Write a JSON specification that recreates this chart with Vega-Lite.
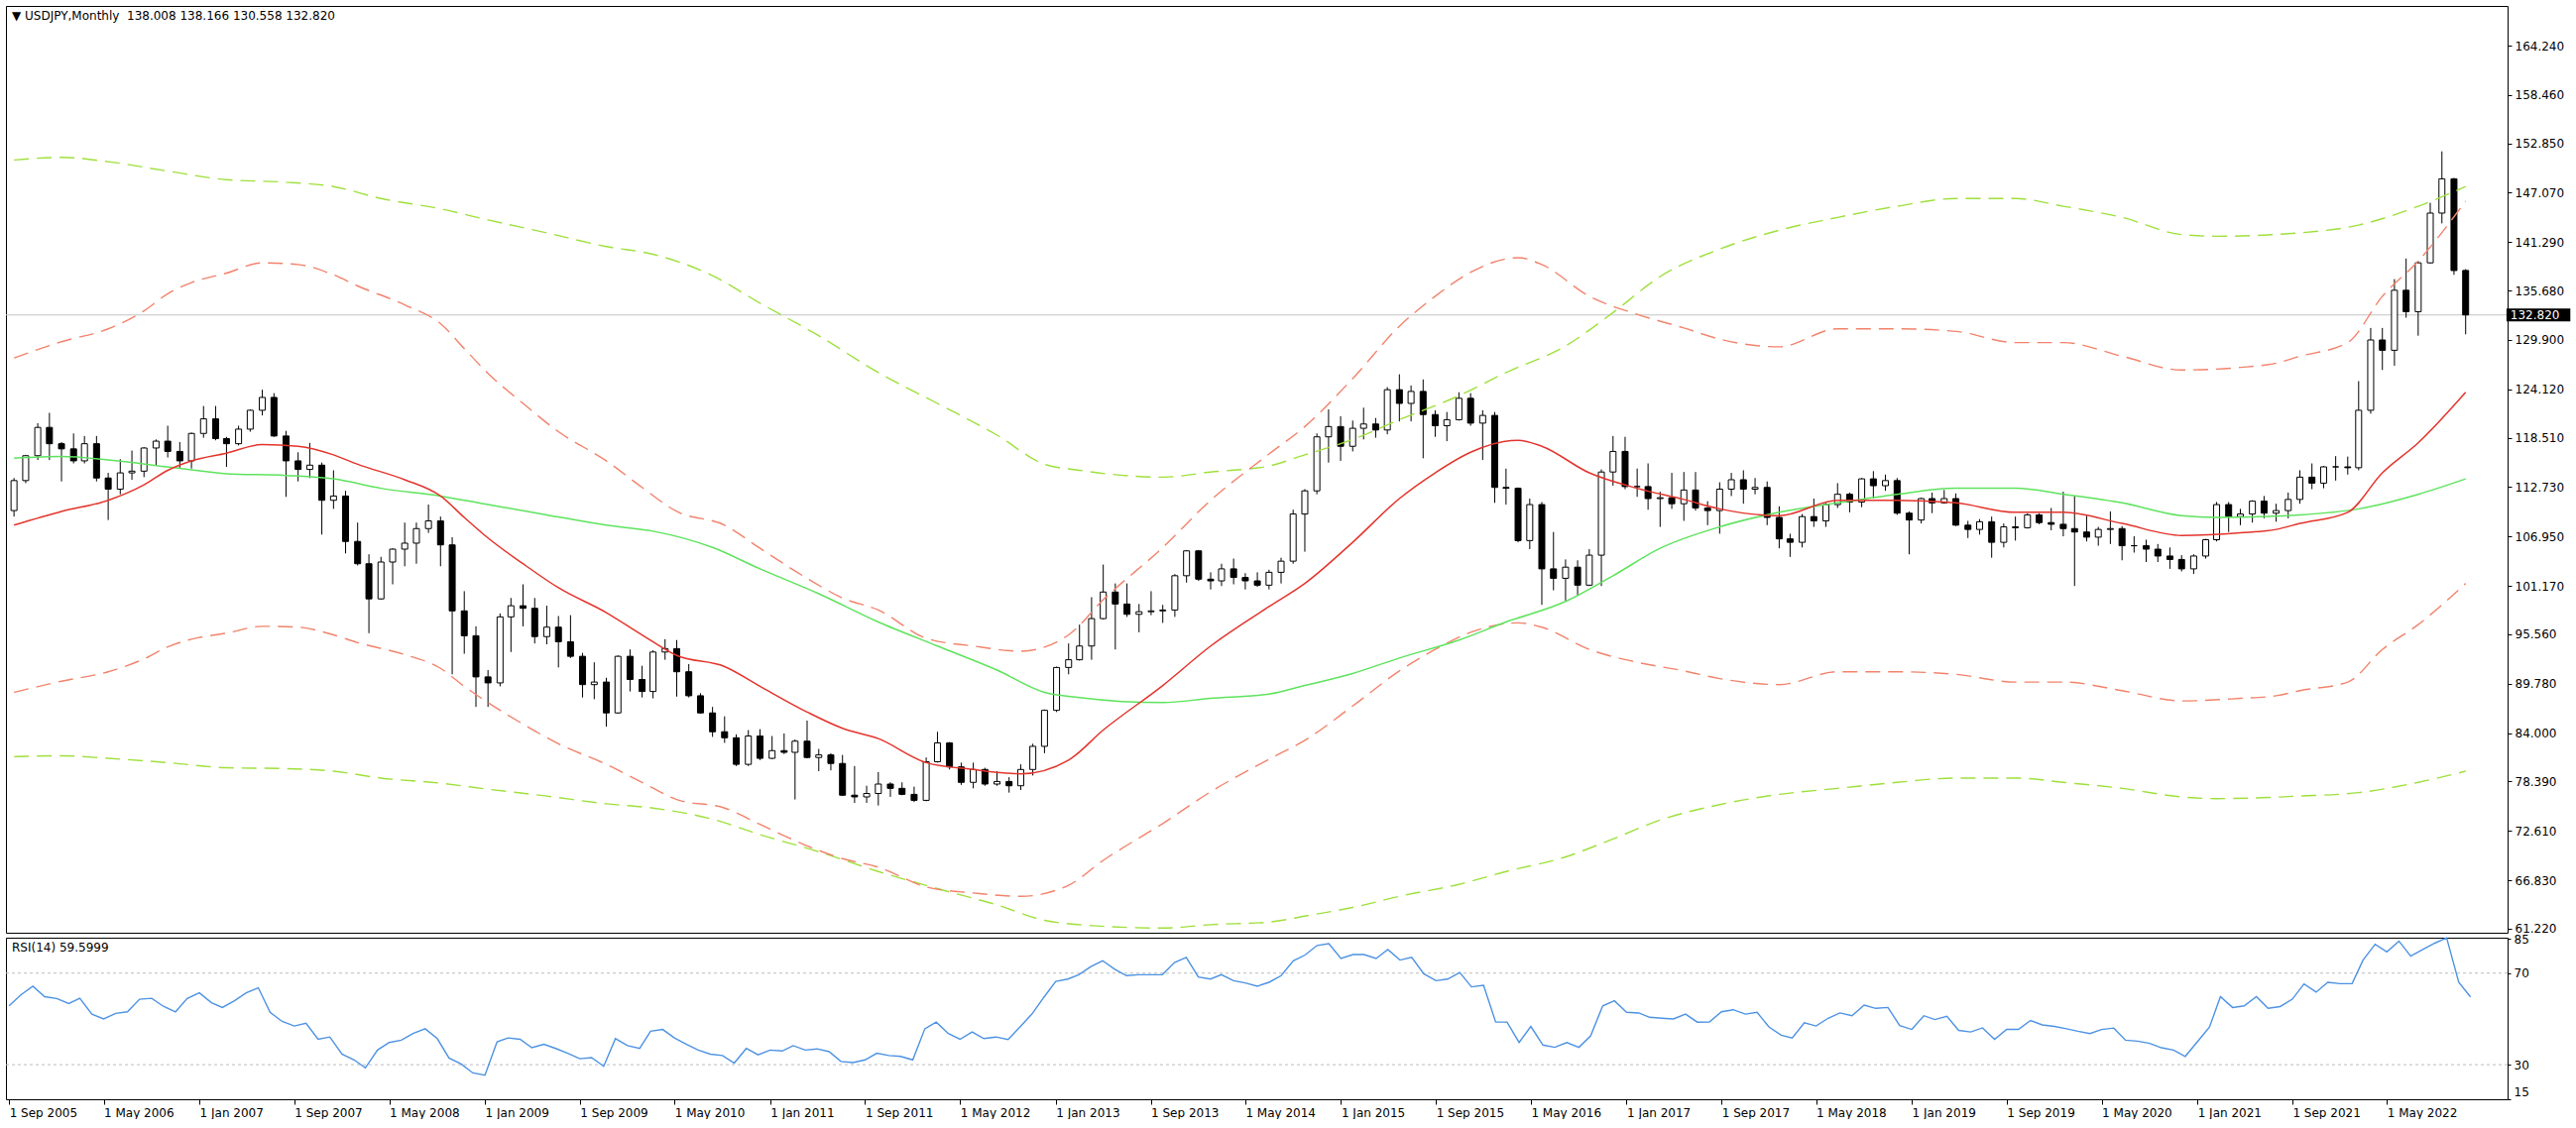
{
"$schema": "https://vega.github.io/schema/vega-lite/v6.json",
"background": "white",
"padding": {"left": 5, "top": 5, "right": 0, "bottom": 0},
"spacing": 5,
"bounds": "flush",
"datasets": {
"bars": [
{"d":"2005-09-01","o":110.0,"h":113.8,"l":109.3,"c":113.5,"r":55.7},
{"d":"2005-10-01","o":113.5,"h":116.5,"l":113.2,"c":116.4,"r":60.5},
{"d":"2005-11-01","o":116.4,"h":120.2,"l":115.9,"c":119.7,"r":64.3},
{"d":"2005-12-01","o":119.7,"h":121.4,"l":115.9,"c":117.8,"r":59.7},
{"d":"2006-01-01","o":117.8,"h":118.0,"l":113.4,"c":117.2,"r":58.9},
{"d":"2006-02-01","o":117.2,"h":119.0,"l":115.5,"c":115.8,"r":56.7},
{"d":"2006-03-01","o":115.8,"h":118.7,"l":115.5,"c":117.8,"r":59.0},
{"d":"2006-04-01","o":117.8,"h":118.7,"l":113.4,"c":113.8,"r":52.1},
{"d":"2006-05-01","o":113.8,"h":114.4,"l":108.9,"c":112.5,"r":50.0},
{"d":"2006-06-01","o":112.5,"h":116.0,"l":111.9,"c":114.4,"r":52.4},
{"d":"2006-07-01","o":114.4,"h":117.0,"l":113.6,"c":114.6,"r":53.1},
{"d":"2006-08-01","o":114.6,"h":117.4,"l":113.9,"c":117.3,"r":58.6},
{"d":"2006-09-01","o":117.3,"h":118.3,"l":115.3,"c":118.1,"r":59.0},
{"d":"2006-10-01","o":118.1,"h":119.9,"l":116.2,"c":116.9,"r":55.5},
{"d":"2006-11-01","o":116.9,"h":118.0,"l":115.0,"c":115.8,"r":53.1},
{"d":"2006-12-01","o":115.8,"h":119.1,"l":114.9,"c":119.0,"r":58.9},
{"d":"2007-01-01","o":119.0,"h":122.2,"l":118.5,"c":120.7,"r":61.4},
{"d":"2007-02-01","o":120.7,"h":122.2,"l":118.2,"c":118.4,"r":57.1},
{"d":"2007-03-01","o":118.4,"h":118.6,"l":115.1,"c":117.8,"r":55.0},
{"d":"2007-04-01","o":117.8,"h":119.9,"l":117.6,"c":119.5,"r":57.9},
{"d":"2007-05-01","o":119.5,"h":121.8,"l":119.2,"c":121.7,"r":61.4},
{"d":"2007-06-01","o":121.7,"h":124.1,"l":121.1,"c":123.2,"r":63.6},
{"d":"2007-07-01","o":123.2,"h":123.7,"l":118.6,"c":118.7,"r":52.9},
{"d":"2007-08-01","o":118.7,"h":119.3,"l":111.6,"c":115.8,"r":48.9},
{"d":"2007-09-01","o":115.8,"h":116.8,"l":113.4,"c":114.8,"r":46.9},
{"d":"2007-10-01","o":114.8,"h":117.9,"l":113.8,"c":115.3,"r":48.1},
{"d":"2007-11-01","o":115.3,"h":115.6,"l":107.2,"c":111.2,"r":41.1},
{"d":"2007-12-01","o":111.2,"h":114.7,"l":110.2,"c":111.7,"r":42.1},
{"d":"2008-01-01","o":111.7,"h":112.3,"l":105.0,"c":106.4,"r":34.6},
{"d":"2008-02-01","o":106.4,"h":108.6,"l":103.6,"c":103.8,"r":32.1},
{"d":"2008-03-01","o":103.8,"h":104.9,"l":95.7,"c":99.7,"r":28.6},
{"d":"2008-04-01","o":99.7,"h":104.6,"l":99.6,"c":104.0,"r":36.4},
{"d":"2008-05-01","o":104.0,"h":105.6,"l":101.4,"c":105.5,"r":39.7},
{"d":"2008-06-01","o":105.5,"h":108.6,"l":103.5,"c":106.2,"r":40.7},
{"d":"2008-07-01","o":106.2,"h":108.6,"l":103.8,"c":107.9,"r":43.6},
{"d":"2008-08-01","o":107.9,"h":110.7,"l":107.4,"c":108.8,"r":45.7},
{"d":"2008-09-01","o":108.8,"h":109.3,"l":103.5,"c":106.0,"r":41.4},
{"d":"2008-10-01","o":106.0,"h":106.9,"l":90.9,"c":98.3,"r":32.9},
{"d":"2008-11-01","o":98.3,"h":100.6,"l":93.3,"c":95.4,"r":30.3},
{"d":"2008-12-01","o":95.4,"h":96.5,"l":87.1,"c":90.6,"r":26.4},
{"d":"2009-01-01","o":90.6,"h":91.4,"l":87.1,"c":89.9,"r":25.4},
{"d":"2009-02-01","o":89.9,"h":98.0,"l":89.5,"c":97.6,"r":40.0},
{"d":"2009-03-01","o":97.6,"h":99.8,"l":93.5,"c":98.9,"r":41.7},
{"d":"2009-04-01","o":98.9,"h":101.4,"l":96.5,"c":98.6,"r":41.1},
{"d":"2009-05-01","o":98.6,"h":99.8,"l":94.5,"c":95.3,"r":37.4},
{"d":"2009-06-01","o":95.3,"h":98.9,"l":94.4,"c":96.4,"r":38.9},
{"d":"2009-07-01","o":96.4,"h":97.7,"l":91.7,"c":94.7,"r":37.1},
{"d":"2009-08-01","o":94.7,"h":97.8,"l":92.8,"c":93.0,"r":35.0},
{"d":"2009-09-01","o":93.0,"h":93.4,"l":88.2,"c":89.7,"r":32.6},
{"d":"2009-10-01","o":89.7,"h":92.3,"l":88.0,"c":90.0,"r":33.1},
{"d":"2009-11-01","o":90.0,"h":90.5,"l":84.8,"c":86.4,"r":29.3},
{"d":"2009-12-01","o":86.4,"h":93.1,"l":86.3,"c":93.0,"r":41.4},
{"d":"2010-01-01","o":93.0,"h":93.8,"l":88.9,"c":90.3,"r":38.3},
{"d":"2010-02-01","o":90.3,"h":91.9,"l":88.2,"c":88.9,"r":37.1},
{"d":"2010-03-01","o":88.9,"h":93.7,"l":88.1,"c":93.5,"r":44.6},
{"d":"2010-04-01","o":93.5,"h":95.0,"l":92.6,"c":93.9,"r":45.4},
{"d":"2010-05-01","o":93.9,"h":94.9,"l":88.3,"c":91.2,"r":41.7},
{"d":"2010-06-01","o":91.2,"h":92.1,"l":88.2,"c":88.4,"r":38.9},
{"d":"2010-07-01","o":88.4,"h":88.7,"l":86.3,"c":86.4,"r":36.4},
{"d":"2010-08-01","o":86.4,"h":87.1,"l":83.6,"c":84.2,"r":34.6},
{"d":"2010-09-01","o":84.2,"h":86.0,"l":82.9,"c":83.5,"r":34.0},
{"d":"2010-10-01","o":83.5,"h":83.9,"l":80.2,"c":80.4,"r":30.7},
{"d":"2010-11-01","o":80.4,"h":84.4,"l":80.2,"c":83.7,"r":37.1},
{"d":"2010-12-01","o":83.7,"h":84.5,"l":80.9,"c":81.1,"r":34.3},
{"d":"2011-01-01","o":81.1,"h":83.7,"l":81.0,"c":82.0,"r":36.4},
{"d":"2011-02-01","o":82.0,"h":84.0,"l":81.6,"c":81.8,"r":36.0},
{"d":"2011-03-01","o":81.8,"h":83.3,"l":76.3,"c":83.1,"r":38.3},
{"d":"2011-04-01","o":83.1,"h":85.5,"l":81.1,"c":81.2,"r":36.4},
{"d":"2011-05-01","o":81.2,"h":82.2,"l":79.6,"c":81.5,"r":36.9},
{"d":"2011-06-01","o":81.5,"h":81.7,"l":79.7,"c":80.5,"r":35.7},
{"d":"2011-07-01","o":80.5,"h":81.5,"l":76.7,"c":76.8,"r":31.4},
{"d":"2011-08-01","o":76.8,"h":80.2,"l":75.9,"c":76.6,"r":30.9},
{"d":"2011-09-01","o":76.6,"h":77.9,"l":75.9,"c":77.0,"r":32.1},
{"d":"2011-10-01","o":77.0,"h":79.5,"l":75.6,"c":78.1,"r":35.0},
{"d":"2011-11-01","o":78.1,"h":78.3,"l":76.6,"c":77.6,"r":34.0},
{"d":"2011-12-01","o":77.6,"h":78.3,"l":76.8,"c":76.9,"r":33.6},
{"d":"2012-01-01","o":76.9,"h":77.8,"l":76.0,"c":76.2,"r":32.1},
{"d":"2012-02-01","o":76.2,"h":81.2,"l":76.1,"c":80.7,"r":45.7},
{"d":"2012-03-01","o":80.7,"h":84.2,"l":80.6,"c":82.9,"r":48.6},
{"d":"2012-04-01","o":82.9,"h":83.0,"l":79.8,"c":80.1,"r":43.6},
{"d":"2012-05-01","o":80.1,"h":80.6,"l":78.0,"c":78.3,"r":41.1},
{"d":"2012-06-01","o":78.3,"h":80.6,"l":77.6,"c":79.8,"r":44.3},
{"d":"2012-07-01","o":79.8,"h":80.0,"l":77.9,"c":78.1,"r":41.4},
{"d":"2012-08-01","o":78.1,"h":79.6,"l":77.9,"c":78.4,"r":42.1},
{"d":"2012-09-01","o":78.4,"h":78.9,"l":77.1,"c":77.9,"r":41.0},
{"d":"2012-10-01","o":77.9,"h":80.4,"l":77.4,"c":79.8,"r":46.4},
{"d":"2012-11-01","o":79.8,"h":82.8,"l":79.1,"c":82.5,"r":52.1},
{"d":"2012-12-01","o":82.5,"h":86.8,"l":81.7,"c":86.7,"r":59.3},
{"d":"2013-01-01","o":86.7,"h":91.8,"l":86.5,"c":91.7,"r":66.4},
{"d":"2013-02-01","o":91.7,"h":94.5,"l":90.9,"c":92.6,"r":67.4},
{"d":"2013-03-01","o":92.6,"h":96.7,"l":92.5,"c":94.2,"r":69.3},
{"d":"2013-04-01","o":94.2,"h":99.9,"l":92.6,"c":97.4,"r":72.9},
{"d":"2013-05-01","o":97.4,"h":103.7,"l":97.3,"c":100.5,"r":75.4},
{"d":"2013-06-01","o":100.5,"h":101.5,"l":93.8,"c":99.1,"r":71.7},
{"d":"2013-07-01","o":99.1,"h":101.5,"l":97.6,"c":97.9,"r":68.9},
{"d":"2013-08-01","o":97.9,"h":99.1,"l":95.8,"c":98.2,"r":69.3},
{"d":"2013-09-01","o":98.2,"h":100.6,"l":97.8,"c":98.3,"r":69.3},
{"d":"2013-10-01","o":98.3,"h":99.0,"l":96.9,"c":98.4,"r":69.3},
{"d":"2013-11-01","o":98.4,"h":102.6,"l":97.6,"c":102.4,"r":74.6},
{"d":"2013-12-01","o":102.4,"h":105.4,"l":101.6,"c":105.3,"r":76.9},
{"d":"2014-01-01","o":105.3,"h":105.4,"l":101.8,"c":102.0,"r":68.3},
{"d":"2014-02-01","o":102.0,"h":102.8,"l":100.8,"c":101.8,"r":67.4},
{"d":"2014-03-01","o":101.8,"h":103.8,"l":101.2,"c":103.2,"r":69.3},
{"d":"2014-04-01","o":103.2,"h":104.4,"l":101.4,"c":102.2,"r":66.7},
{"d":"2014-05-01","o":102.2,"h":102.7,"l":100.8,"c":101.8,"r":65.7},
{"d":"2014-06-01","o":101.8,"h":102.8,"l":101.1,"c":101.3,"r":64.3},
{"d":"2014-07-01","o":101.3,"h":103.1,"l":100.8,"c":102.8,"r":66.0},
{"d":"2014-08-01","o":102.8,"h":104.5,"l":101.5,"c":104.1,"r":68.9},
{"d":"2014-09-01","o":104.1,"h":110.1,"l":103.8,"c":109.6,"r":75.4},
{"d":"2014-10-01","o":109.6,"h":112.5,"l":105.2,"c":112.3,"r":77.9},
{"d":"2014-11-01","o":112.3,"h":119.0,"l":111.9,"c":118.6,"r":82.1},
{"d":"2014-12-01","o":118.6,"h":121.8,"l":115.6,"c":119.8,"r":82.9},
{"d":"2015-01-01","o":119.8,"h":121.0,"l":115.8,"c":117.5,"r":76.4},
{"d":"2015-02-01","o":117.5,"h":120.5,"l":116.9,"c":119.6,"r":78.1},
{"d":"2015-03-01","o":119.6,"h":122.0,"l":118.3,"c":120.1,"r":78.1},
{"d":"2015-04-01","o":120.1,"h":120.8,"l":118.5,"c":119.4,"r":76.4},
{"d":"2015-05-01","o":119.4,"h":124.4,"l":118.9,"c":124.1,"r":80.3},
{"d":"2015-06-01","o":124.1,"h":125.9,"l":120.4,"c":122.5,"r":75.7},
{"d":"2015-07-01","o":122.5,"h":124.6,"l":120.4,"c":123.9,"r":76.9},
{"d":"2015-08-01","o":123.9,"h":125.3,"l":116.1,"c":121.2,"r":69.7},
{"d":"2015-09-01","o":121.2,"h":121.7,"l":118.6,"c":119.9,"r":66.7},
{"d":"2015-10-01","o":119.9,"h":121.5,"l":118.1,"c":120.6,"r":67.4},
{"d":"2015-11-01","o":120.6,"h":123.8,"l":120.5,"c":123.1,"r":70.3},
{"d":"2015-12-01","o":123.1,"h":123.7,"l":119.9,"c":120.2,"r":64.0},
{"d":"2016-01-01","o":120.2,"h":121.7,"l":115.9,"c":121.1,"r":64.7},
{"d":"2016-02-01","o":121.1,"h":121.5,"l":110.9,"c":112.7,"r":48.6},
{"d":"2016-03-01","o":112.7,"h":114.9,"l":110.7,"c":112.6,"r":48.6},
{"d":"2016-04-01","o":112.6,"h":112.7,"l":106.3,"c":106.5,"r":39.7},
{"d":"2016-05-01","o":106.5,"h":111.4,"l":105.5,"c":110.7,"r":46.7},
{"d":"2016-06-01","o":110.7,"h":111.0,"l":99.0,"c":103.2,"r":38.6},
{"d":"2016-07-01","o":103.2,"h":107.5,"l":100.7,"c":102.1,"r":37.6},
{"d":"2016-08-01","o":102.1,"h":104.3,"l":99.5,"c":103.4,"r":39.7},
{"d":"2016-09-01","o":103.4,"h":104.2,"l":100.1,"c":101.3,"r":37.6},
{"d":"2016-10-01","o":101.3,"h":105.5,"l":101.2,"c":104.8,"r":42.6},
{"d":"2016-11-01","o":104.8,"h":114.8,"l":101.2,"c":114.5,"r":55.7},
{"d":"2016-12-01","o":114.5,"h":118.7,"l":112.9,"c":116.9,"r":57.9},
{"d":"2017-01-01","o":116.9,"h":118.6,"l":112.5,"c":112.8,"r":52.9},
{"d":"2017-02-01","o":112.8,"h":114.9,"l":111.6,"c":112.8,"r":52.6},
{"d":"2017-03-01","o":112.8,"h":115.5,"l":110.1,"c":111.4,"r":50.7},
{"d":"2017-04-01","o":111.4,"h":112.2,"l":108.1,"c":111.5,"r":50.3},
{"d":"2017-05-01","o":111.5,"h":114.4,"l":110.2,"c":110.8,"r":50.0},
{"d":"2017-06-01","o":110.8,"h":114.5,"l":108.8,"c":112.4,"r":52.1},
{"d":"2017-07-01","o":112.4,"h":114.5,"l":110.0,"c":110.3,"r":48.6},
{"d":"2017-08-01","o":110.3,"h":111.1,"l":108.3,"c":110.0,"r":48.7},
{"d":"2017-09-01","o":110.0,"h":113.3,"l":107.3,"c":112.5,"r":53.1},
{"d":"2017-10-01","o":112.5,"h":114.4,"l":111.7,"c":113.6,"r":54.0},
{"d":"2017-11-01","o":113.6,"h":114.7,"l":110.8,"c":112.5,"r":52.1},
{"d":"2017-12-01","o":112.5,"h":113.8,"l":111.9,"c":112.7,"r":52.9},
{"d":"2018-01-01","o":112.7,"h":113.4,"l":108.3,"c":109.2,"r":46.4},
{"d":"2018-02-01","o":109.2,"h":110.5,"l":105.6,"c":106.7,"r":42.9},
{"d":"2018-03-01","o":106.7,"h":107.3,"l":104.6,"c":106.3,"r":41.7},
{"d":"2018-04-01","o":106.3,"h":109.6,"l":105.7,"c":109.3,"r":48.3},
{"d":"2018-05-01","o":109.3,"h":111.4,"l":108.1,"c":108.8,"r":46.9},
{"d":"2018-06-01","o":108.8,"h":110.9,"l":108.1,"c":110.7,"r":50.3},
{"d":"2018-07-01","o":110.7,"h":113.2,"l":110.3,"c":111.9,"r":52.6},
{"d":"2018-08-01","o":111.9,"h":112.1,"l":109.8,"c":111.0,"r":51.4},
{"d":"2018-09-01","o":111.0,"h":113.8,"l":110.4,"c":113.7,"r":56.0},
{"d":"2018-10-01","o":113.7,"h":114.6,"l":111.4,"c":112.9,"r":54.6},
{"d":"2018-11-01","o":112.9,"h":114.2,"l":112.3,"c":113.5,"r":55.0},
{"d":"2018-12-01","o":113.5,"h":113.8,"l":109.5,"c":109.7,"r":47.1},
{"d":"2019-01-01","o":109.7,"h":109.9,"l":104.9,"c":108.9,"r":45.4},
{"d":"2019-02-01","o":108.9,"h":111.5,"l":108.5,"c":111.4,"r":51.4},
{"d":"2019-03-01","o":111.4,"h":112.1,"l":109.7,"c":110.9,"r":49.7},
{"d":"2019-04-01","o":110.9,"h":112.4,"l":110.8,"c":111.4,"r":51.1},
{"d":"2019-05-01","o":111.4,"h":112.0,"l":108.2,"c":108.3,"r":45.0},
{"d":"2019-06-01","o":108.3,"h":108.8,"l":106.8,"c":107.8,"r":44.3},
{"d":"2019-07-01","o":107.8,"h":109.0,"l":107.2,"c":108.7,"r":46.1},
{"d":"2019-08-01","o":108.7,"h":109.3,"l":104.5,"c":106.3,"r":41.1},
{"d":"2019-09-01","o":106.3,"h":108.5,"l":105.7,"c":108.1,"r":45.4},
{"d":"2019-10-01","o":108.1,"h":109.3,"l":106.5,"c":108.0,"r":45.4},
{"d":"2019-11-01","o":108.0,"h":109.7,"l":107.9,"c":109.5,"r":49.3},
{"d":"2019-12-01","o":109.5,"h":109.7,"l":108.4,"c":108.6,"r":47.4},
{"d":"2020-01-01","o":108.6,"h":110.3,"l":107.7,"c":108.4,"r":46.7},
{"d":"2020-02-01","o":108.4,"h":112.2,"l":107.0,"c":107.9,"r":45.7},
{"d":"2020-03-01","o":107.9,"h":111.7,"l":101.2,"c":107.5,"r":44.6},
{"d":"2020-04-01","o":107.5,"h":109.4,"l":106.4,"c":106.9,"r":43.6},
{"d":"2020-05-01","o":106.9,"h":108.1,"l":105.9,"c":107.8,"r":45.4},
{"d":"2020-06-01","o":107.8,"h":109.9,"l":106.1,"c":107.9,"r":46.0},
{"d":"2020-07-01","o":107.9,"h":108.2,"l":104.2,"c":105.9,"r":40.7},
{"d":"2020-08-01","o":105.9,"h":107.0,"l":105.1,"c":105.9,"r":40.3},
{"d":"2020-09-01","o":105.9,"h":106.6,"l":104.0,"c":105.5,"r":39.3},
{"d":"2020-10-01","o":105.5,"h":106.1,"l":104.0,"c":104.7,"r":37.4},
{"d":"2020-11-01","o":104.7,"h":105.7,"l":103.2,"c":104.3,"r":36.4},
{"d":"2020-12-01","o":104.3,"h":104.8,"l":102.9,"c":103.2,"r":33.6},
{"d":"2021-01-01","o":103.2,"h":104.9,"l":102.6,"c":104.7,"r":40.0},
{"d":"2021-02-01","o":104.7,"h":106.7,"l":104.4,"c":106.6,"r":46.4},
{"d":"2021-03-01","o":106.6,"h":111.0,"l":106.4,"c":110.7,"r":59.7},
{"d":"2021-04-01","o":110.7,"h":111.0,"l":107.5,"c":109.3,"r":55.0},
{"d":"2021-05-01","o":109.3,"h":110.2,"l":108.3,"c":109.6,"r":55.7},
{"d":"2021-06-01","o":109.6,"h":111.2,"l":108.6,"c":111.1,"r":59.7},
{"d":"2021-07-01","o":111.1,"h":111.7,"l":109.1,"c":109.7,"r":54.6},
{"d":"2021-08-01","o":109.7,"h":110.8,"l":108.7,"c":110.0,"r":55.4},
{"d":"2021-09-01","o":110.0,"h":112.1,"l":109.1,"c":111.3,"r":58.6},
{"d":"2021-10-01","o":111.3,"h":114.7,"l":110.8,"c":113.9,"r":65.3},
{"d":"2021-11-01","o":113.9,"h":115.5,"l":112.5,"c":113.2,"r":61.7},
{"d":"2021-12-01","o":113.2,"h":115.2,"l":112.6,"c":115.1,"r":66.0},
{"d":"2022-01-01","o":115.1,"h":116.35,"l":113.5,"c":115.1,"r":65.4},
{"d":"2022-02-01","o":115.1,"h":116.3,"l":114.2,"c":115.0,"r":65.4},
{"d":"2022-03-01","o":115.0,"h":125.1,"l":114.7,"c":121.7,"r":75.7},
{"d":"2022-04-01","o":121.7,"h":131.3,"l":121.3,"c":129.9,"r":82.6},
{"d":"2022-05-01","o":129.9,"h":131.3,"l":126.4,"c":128.7,"r":79.3},
{"d":"2022-06-01","o":128.7,"h":137.0,"l":126.9,"c":135.7,"r":84.0},
{"d":"2022-07-01","o":135.7,"h":139.4,"l":132.5,"c":133.2,"r":77.4},
{"d":"2022-08-01","o":133.2,"h":139.1,"l":130.4,"c":138.9,"r":80.3},
{"d":"2022-09-01","o":138.9,"h":145.9,"l":138.8,"c":144.7,"r":83.1},
{"d":"2022-10-01","o":144.7,"h":151.9,"l":143.5,"c":148.7,"r":85.4},
{"d":"2022-11-01","o":148.7,"h":148.8,"l":137.5,"c":138.0,"r":66.0},
{"d":"2022-12-01","o":138.008,"h":138.166,"l":130.558,"c":132.82,"r":59.6}
],
"red": [
{"d":"2005-09-01","m":108.3,"u":127.8,"n":88.8},
{"d":"2006-01-01","m":109.9,"u":129.7,"n":90.1},
{"d":"2006-05-01","m":111.2,"u":131.2,"n":91.2},
{"d":"2006-08-01","m":113.0,"u":133.3,"n":92.7},
{"d":"2006-10-01","m":114.7,"u":135.3,"n":94.1},
{"d":"2006-12-01","m":115.8,"u":136.6,"n":95.0},
{"d":"2007-03-01","m":116.7,"u":137.7,"n":95.7},
{"d":"2007-06-01","m":117.7,"u":138.9,"n":96.5},
{"d":"2007-09-01","m":117.5,"u":138.7,"n":96.4},
{"d":"2007-12-01","m":116.5,"u":137.5,"n":95.5},
{"d":"2008-02-01","m":115.4,"u":136.2,"n":94.6},
{"d":"2008-06-01","m":113.6,"u":134.0,"n":93.2},
{"d":"2008-09-01","m":111.7,"u":131.8,"n":91.6},
{"d":"2008-11-01","m":109.2,"u":128.9,"n":89.5},
{"d":"2009-01-01","m":106.8,"u":126.0,"n":87.6},
{"d":"2009-04-01","m":103.8,"u":122.5,"n":85.1},
{"d":"2009-07-01","m":101.0,"u":119.2,"n":82.8},
{"d":"2009-11-01","m":98.1,"u":115.8,"n":80.4},
{"d":"2010-02-01","m":95.5,"u":112.7,"n":78.3},
{"d":"2010-05-01","m":93.1,"u":109.9,"n":76.3},
{"d":"2010-09-01","m":91.8,"u":108.3,"n":75.3},
{"d":"2010-12-01","m":89.5,"u":105.6,"n":73.4},
{"d":"2011-04-01","m":86.5,"u":102.1,"n":70.9},
{"d":"2011-07-01","m":84.6,"u":99.8,"n":69.4},
{"d":"2011-10-01","m":83.4,"u":98.4,"n":68.4},
{"d":"2012-02-01","m":80.6,"u":95.1,"n":66.1},
{"d":"2012-06-01","m":79.8,"u":94.2,"n":65.4},
{"d":"2012-10-01","m":79.3,"u":93.6,"n":65.0},
{"d":"2013-02-01","m":80.9,"u":95.5,"n":66.3},
{"d":"2013-05-01","m":84.4,"u":99.6,"n":69.2},
{"d":"2013-10-01","m":89.6,"u":105.7,"n":73.5},
{"d":"2014-02-01","m":94.2,"u":111.2,"n":77.2},
{"d":"2014-07-01","m":98.8,"u":116.6,"n":81.0},
{"d":"2014-10-01","m":101.5,"u":119.8,"n":83.2},
{"d":"2015-02-01","m":106.3,"u":125.4,"n":87.2},
{"d":"2015-06-01","m":111.4,"u":131.5,"n":91.3},
{"d":"2015-09-01","m":114.4,"u":135.0,"n":93.8},
{"d":"2015-12-01","m":116.8,"u":137.8,"n":95.8},
{"d":"2016-04-01","m":118.2,"u":139.5,"n":96.9},
{"d":"2016-06-01","m":117.5,"u":138.7,"n":96.4},
{"d":"2016-10-01","m":114.4,"u":135.0,"n":93.8},
{"d":"2017-02-01","m":112.6,"u":132.9,"n":92.3},
{"d":"2017-06-01","m":111.3,"u":131.3,"n":91.3},
{"d":"2017-09-01","m":110.2,"u":130.0,"n":90.4},
{"d":"2018-02-01","m":109.4,"u":129.1,"n":89.7},
{"d":"2018-07-01","m":111.2,"u":131.2,"n":91.2},
{"d":"2018-12-01","m":111.2,"u":131.2,"n":91.2},
{"d":"2019-05-01","m":110.9,"u":130.9,"n":90.9},
{"d":"2019-10-01","m":109.8,"u":129.6,"n":90.0},
{"d":"2020-02-01","m":109.8,"u":129.6,"n":90.0},
{"d":"2020-07-01","m":108.5,"u":128.0,"n":89.0},
{"d":"2020-12-01","m":107.1,"u":126.4,"n":87.8},
{"d":"2021-05-01","m":107.4,"u":126.7,"n":88.1},
{"d":"2021-08-01","m":107.8,"u":127.2,"n":88.4},
{"d":"2021-10-01","m":108.5,"u":128.0,"n":89.0},
{"d":"2022-02-01","m":109.8,"u":129.6,"n":90.0},
{"d":"2022-05-01","m":114.4,"u":135.0,"n":93.8},
{"d":"2022-08-01","m":117.9,"u":139.1,"n":96.7},
{"d":"2022-12-01","m":123.8,"u":146.1,"n":101.5}
],
"green": [
{"d":"2005-09-01","g":116.1,"u":150.9,"n":81.3},
{"d":"2006-01-01","g":116.3,"u":151.2,"n":81.4},
{"d":"2006-05-01","g":115.9,"u":150.7,"n":81.1},
{"d":"2006-10-01","g":115.1,"u":149.6,"n":80.6},
{"d":"2007-03-01","g":114.3,"u":148.6,"n":80.0},
{"d":"2007-08-01","g":114.1,"u":148.3,"n":79.9},
{"d":"2007-12-01","g":113.7,"u":147.8,"n":79.6},
{"d":"2008-04-01","g":112.6,"u":146.4,"n":78.8},
{"d":"2008-09-01","g":111.7,"u":145.2,"n":78.2},
{"d":"2009-01-01","g":110.7,"u":143.9,"n":77.5},
{"d":"2009-06-01","g":109.5,"u":142.4,"n":76.7},
{"d":"2009-11-01","g":108.3,"u":140.8,"n":75.8},
{"d":"2010-03-01","g":107.6,"u":139.9,"n":75.3},
{"d":"2010-08-01","g":105.7,"u":137.4,"n":74.0},
{"d":"2010-12-01","g":103.2,"u":134.2,"n":72.2},
{"d":"2011-05-01","g":100.3,"u":130.4,"n":70.2},
{"d":"2011-10-01","g":97.0,"u":126.1,"n":67.9},
{"d":"2012-03-01","g":94.2,"u":122.5,"n":65.9},
{"d":"2012-08-01","g":91.4,"u":118.8,"n":64.0},
{"d":"2012-12-01","g":88.8,"u":115.4,"n":62.2},
{"d":"2013-03-01","g":88.2,"u":114.7,"n":61.7},
{"d":"2013-10-01","g":87.6,"u":113.9,"n":61.3},
{"d":"2014-02-01","g":88.1,"u":114.5,"n":61.7},
{"d":"2014-07-01","g":88.6,"u":115.2,"n":62.0},
{"d":"2014-10-01","g":89.6,"u":116.5,"n":62.7},
{"d":"2015-02-01","g":91.0,"u":118.3,"n":63.7},
{"d":"2015-06-01","g":92.8,"u":120.6,"n":65.0},
{"d":"2015-11-01","g":94.9,"u":123.4,"n":66.4},
{"d":"2016-03-01","g":97.0,"u":126.1,"n":67.9},
{"d":"2016-08-01","g":99.4,"u":129.2,"n":69.6},
{"d":"2016-12-01","g":102.4,"u":133.1,"n":71.7},
{"d":"2017-04-01","g":105.6,"u":137.3,"n":73.9},
{"d":"2017-09-01","g":108.1,"u":140.5,"n":75.7},
{"d":"2018-02-01","g":109.8,"u":142.7,"n":76.9},
{"d":"2018-07-01","g":110.9,"u":144.2,"n":77.6},
{"d":"2018-12-01","g":111.9,"u":145.5,"n":78.3},
{"d":"2019-05-01","g":112.6,"u":146.4,"n":78.8},
{"d":"2019-10-01","g":112.6,"u":146.4,"n":78.8},
{"d":"2020-02-01","g":111.9,"u":145.5,"n":78.3},
{"d":"2020-07-01","g":110.9,"u":144.2,"n":77.6},
{"d":"2020-12-01","g":109.4,"u":142.2,"n":76.6},
{"d":"2021-03-01","g":109.2,"u":142.0,"n":76.4},
{"d":"2021-10-01","g":109.5,"u":142.4,"n":76.7},
{"d":"2022-03-01","g":110.2,"u":143.3,"n":77.1},
{"d":"2022-08-01","g":111.9,"u":145.5,"n":78.3},
{"d":"2022-12-01","g":113.7,"u":147.8,"n":79.6}
]
},
"vconcat": [
{
"width": 2523,
"height": 935,
"title": {"text": "▼ USDJPY,Monthly\u00a0\u00a0138.008 138.166 130.558 132.820", "anchor": "start", "frame": "group", "orient": "top", "offset": -17, "dx": 6, "font": "DejaVu Sans", "fontSize": 12, "fontWeight": "normal", "color": "#000"},
"layer": [
{"data": {"values": [{}]}, "mark": {"type": "rule", "color": "#c4c4c4", "strokeWidth": 1},
 "encoding": {"y": {"datum": 132.82, "type": "quantitative", "scale": {"domain": [60.757, 168.865], "nice": false, "zero": false}}}},
{"data": {"name": "bars"}, "mark": {"type": "rule", "color": "#000", "strokeWidth": 1},
 "encoding": {
  "x": {"field": "d", "type": "temporal", "axis": null, "scale": {"type": "utc", "domain": [{"year": 2005, "month": 8, "date": 24, "utc": true}, {"year": 2023, "month": 3, "date": 6, "utc": true}]}},
  "y": {"field": "l", "type": "quantitative", "title": null, "scale": {"domain": [60.757, 168.865], "nice": false, "zero": false},
        "axis": {"orient": "right", "values": [61.22, 66.83, 72.61, 78.39, 84, 89.78, 95.56, 101.17, 106.95, 112.73, 118.51, 124.12, 129.9, 135.68, 141.29, 147.07, 152.85, 158.46, 164.24], "format": ".3f", "tickSize": 4, "labelPadding": 3, "labelFlush": false, "labelOverlap": false, "title": null}},
  "y2": {"field": "h"}}},
{"data": {"name": "bars"}, "mark": {"type": "bar", "width": 6, "stroke": "#000", "strokeWidth": 1},
 "encoding": {
  "x": {"field": "d", "type": "temporal", "axis": null, "scale": {"type": "utc", "domain": [{"year": 2005, "month": 8, "date": 24, "utc": true}, {"year": 2023, "month": 3, "date": 6, "utc": true}]}},
  "y": {"field": "o", "type": "quantitative", "title": null, "scale": {"domain": [60.757, 168.865], "nice": false, "zero": false}},
  "y2": {"field": "c"},
  "fill": {"condition": {"test": "datum.c < datum.o", "value": "#000"}, "value": "#fff"}}},
{"data": {"name": "green"}, "mark": {"type": "line", "color": "#9fe03c", "strokeWidth": 1.4, "strokeDash": [15, 8], "interpolate": "monotone"},
 "encoding": {
  "x": {"field": "d", "type": "temporal", "axis": null, "scale": {"type": "utc", "domain": [{"year": 2005, "month": 8, "date": 24, "utc": true}, {"year": 2023, "month": 3, "date": 6, "utc": true}]}},
  "y": {"field": "u", "type": "quantitative", "title": null, "scale": {"domain": [60.757, 168.865], "nice": false, "zero": false}}}},
{"data": {"name": "green"}, "mark": {"type": "line", "color": "#9fe03c", "strokeWidth": 1.4, "strokeDash": [15, 8], "interpolate": "monotone"},
 "encoding": {
  "x": {"field": "d", "type": "temporal", "axis": null, "scale": {"type": "utc", "domain": [{"year": 2005, "month": 8, "date": 24, "utc": true}, {"year": 2023, "month": 3, "date": 6, "utc": true}]}},
  "y": {"field": "n", "type": "quantitative", "title": null, "scale": {"domain": [60.757, 168.865], "nice": false, "zero": false}}}},
{"data": {"name": "red"}, "mark": {"type": "line", "color": "#f2836c", "strokeWidth": 1.4, "strokeDash": [15, 8], "interpolate": "monotone"},
 "encoding": {
  "x": {"field": "d", "type": "temporal", "axis": null, "scale": {"type": "utc", "domain": [{"year": 2005, "month": 8, "date": 24, "utc": true}, {"year": 2023, "month": 3, "date": 6, "utc": true}]}},
  "y": {"field": "u", "type": "quantitative", "title": null, "scale": {"domain": [60.757, 168.865], "nice": false, "zero": false}}}},
{"data": {"name": "red"}, "mark": {"type": "line", "color": "#f2836c", "strokeWidth": 1.4, "strokeDash": [15, 8], "interpolate": "monotone"},
 "encoding": {
  "x": {"field": "d", "type": "temporal", "axis": null, "scale": {"type": "utc", "domain": [{"year": 2005, "month": 8, "date": 24, "utc": true}, {"year": 2023, "month": 3, "date": 6, "utc": true}]}},
  "y": {"field": "n", "type": "quantitative", "title": null, "scale": {"domain": [60.757, 168.865], "nice": false, "zero": false}}}},
{"data": {"name": "green"}, "mark": {"type": "line", "color": "#5ee35e", "strokeWidth": 1.5, "interpolate": "monotone"},
 "encoding": {
  "x": {"field": "d", "type": "temporal", "axis": null, "scale": {"type": "utc", "domain": [{"year": 2005, "month": 8, "date": 24, "utc": true}, {"year": 2023, "month": 3, "date": 6, "utc": true}]}},
  "y": {"field": "g", "type": "quantitative", "title": null, "scale": {"domain": [60.757, 168.865], "nice": false, "zero": false}}}},
{"data": {"name": "red"}, "mark": {"type": "line", "color": "#e3342c", "strokeWidth": 1.5, "interpolate": "monotone"},
 "encoding": {
  "x": {"field": "d", "type": "temporal", "axis": null, "scale": {"type": "utc", "domain": [{"year": 2005, "month": 8, "date": 24, "utc": true}, {"year": 2023, "month": 3, "date": 6, "utc": true}]}},
  "y": {"field": "m", "type": "quantitative", "title": null, "scale": {"domain": [60.757, 168.865], "nice": false, "zero": false}}}},
{"data": {"values": [{}]}, "mark": {"type": "rect", "color": "#000"},
 "encoding": {
  "x": {"datum": {"year": 2023, "month": 3, "date": 16, "utc": true}, "type": "temporal", "axis": null},
  "x2": {"datum": {"year": 2023, "month": 8, "date": 27, "utc": true}},
  "y": {"datum": 133.57, "type": "quantitative"},
  "y2": {"datum": 132.07}}},
{"data": {"values": [{}]}, "mark": {"type": "text", "color": "#fff", "align": "left", "baseline": "middle", "font": "DejaVu Sans", "fontSize": 12},
 "encoding": {
  "x": {"datum": {"year": 2023, "month": 3, "date": 26, "utc": true}, "type": "temporal", "axis": null},
  "y": {"datum": 132.82, "type": "quantitative"},
  "text": {"value": "132.820"}}}
]
},
{
"width": 2523,
"height": 163,
"title": {"text": "RSI(14) 59.5999", "anchor": "start", "frame": "group", "orient": "top", "offset": -22, "dx": 6, "font": "DejaVu Sans", "fontSize": 12, "fontWeight": "normal", "color": "#000"},
"layer": [
{"data": {"values": [{}]}, "mark": {"type": "rule", "color": "#bdbdbd", "strokeWidth": 1, "strokeDash": [3, 3]},
 "encoding": {"y": {"datum": 70, "type": "quantitative", "scale": {"domain": [14.9, 85.48], "nice": false, "zero": false}}}},
{"data": {"values": [{}]}, "mark": {"type": "rule", "color": "#bdbdbd", "strokeWidth": 1, "strokeDash": [3, 3]},
 "encoding": {"y": {"datum": 30, "type": "quantitative", "scale": {"domain": [14.9, 85.48], "nice": false, "zero": false}}}},
{"data": {"name": "bars"}, "mark": {"type": "line", "color": "#4d92e3", "strokeWidth": 1.4},
 "encoding": {
  "x": {"field": "d", "type": "temporal", "title": null,
        "scale": {"type": "utc", "domain": [{"year": 2005, "month": 8, "date": 24, "utc": true}, {"year": 2023, "month": 3, "date": 6, "utc": true}]},
        "axis": {"values": [
          {"year": 2005, "month": 9, "date": 1, "utc": true}, {"year": 2006, "month": 5, "date": 1, "utc": true},
          {"year": 2007, "month": 1, "date": 1, "utc": true}, {"year": 2007, "month": 9, "date": 1, "utc": true},
          {"year": 2008, "month": 5, "date": 1, "utc": true}, {"year": 2009, "month": 1, "date": 1, "utc": true},
          {"year": 2009, "month": 9, "date": 1, "utc": true}, {"year": 2010, "month": 5, "date": 1, "utc": true},
          {"year": 2011, "month": 1, "date": 1, "utc": true}, {"year": 2011, "month": 9, "date": 1, "utc": true},
          {"year": 2012, "month": 5, "date": 1, "utc": true}, {"year": 2013, "month": 1, "date": 1, "utc": true},
          {"year": 2013, "month": 9, "date": 1, "utc": true}, {"year": 2014, "month": 5, "date": 1, "utc": true},
          {"year": 2015, "month": 1, "date": 1, "utc": true}, {"year": 2015, "month": 9, "date": 1, "utc": true},
          {"year": 2016, "month": 5, "date": 1, "utc": true}, {"year": 2017, "month": 1, "date": 1, "utc": true},
          {"year": 2017, "month": 9, "date": 1, "utc": true}, {"year": 2018, "month": 5, "date": 1, "utc": true},
          {"year": 2019, "month": 1, "date": 1, "utc": true}, {"year": 2019, "month": 9, "date": 1, "utc": true},
          {"year": 2020, "month": 5, "date": 1, "utc": true}, {"year": 2021, "month": 1, "date": 1, "utc": true},
          {"year": 2021, "month": 9, "date": 1, "utc": true}, {"year": 2022, "month": 5, "date": 1, "utc": true}],
          "format": "%-d %b %Y", "labelAlign": "left", "labelBaseline": "top", "tickSize": 5, "labelPadding": 3, "labelFlush": false, "labelOverlap": false, "title": null}},
  "y": {"field": "r", "type": "quantitative", "title": null, "scale": {"domain": [14.9, 85.48], "nice": false, "zero": false},
        "axis": {"orient": "right", "values": [15, 30, 70, 85], "format": "d", "tickSize": 3, "labelPadding": 3, "labelFlush": true, "labelOverlap": false, "title": null}}}}
]
}
],
"config": {
"view": {"stroke": "#000", "strokeWidth": 1},
"axis": {"labelFont": "DejaVu Sans", "labelFontSize": 12, "labelColor": "#000", "tickColor": "#000", "domain": false, "grid": false},
"title": {"font": "DejaVu Sans", "fontSize": 12, "fontWeight": "normal"}
}
}
